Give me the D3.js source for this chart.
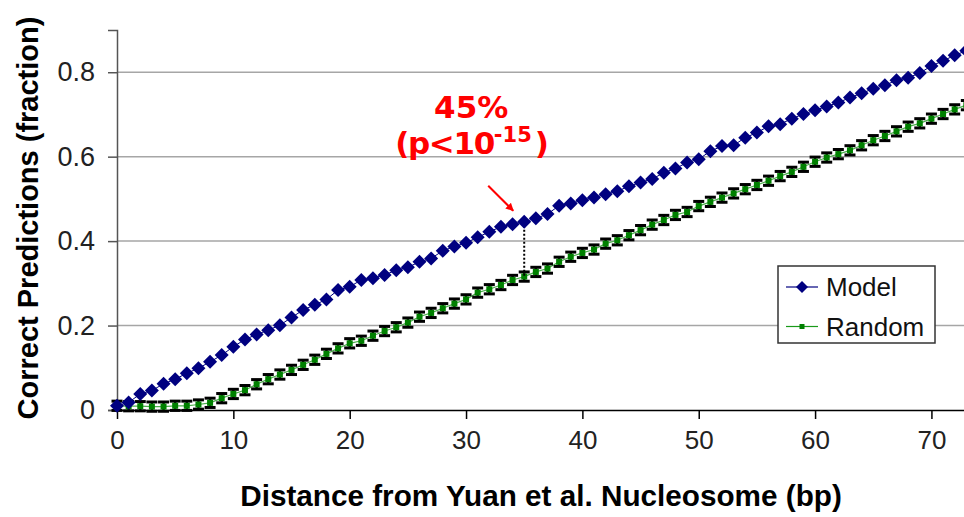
<!DOCTYPE html>
<html>
<head>
<meta charset="utf-8">
<script src="https://cdn.jsdelivr.net/npm/d3@7"></script>
<style>
  body { margin: 0; background: #fff; }
  svg { display: block; font-family: "Liberation Sans", Arial, sans-serif; }
</style>
</head>
<body>
<svg id="chart" width="964" height="517"></svg>
<script>
// distance (bp) for every point
var distances = d3.range(0, 74)

// Model: fraction of correct predictions
var modelValues = [
  0.010, 0.018, 0.038, 0.046, 0.062, 0.073, 0.087, 0.099, 0.114, 0.130,
  0.150, 0.167, 0.179, 0.189, 0.201, 0.219, 0.237, 0.249, 0.262, 0.284,
  0.292, 0.308, 0.312, 0.320, 0.331, 0.338, 0.351, 0.359, 0.377, 0.387,
  0.396, 0.409, 0.422, 0.434, 0.440, 0.446, 0.454, 0.464, 0.484, 0.489,
  0.497, 0.503, 0.511, 0.518, 0.530, 0.539, 0.547, 0.562, 0.572, 0.586,
  0.594, 0.613, 0.625, 0.627, 0.645, 0.657, 0.672, 0.677, 0.690, 0.701,
  0.710, 0.719, 0.728, 0.740, 0.750, 0.761, 0.769, 0.781, 0.787, 0.798,
  0.815, 0.827, 0.840, 0.851
]

// Random: fraction of correct predictions (mean)
var randomValues = [
  0.010, 0.009, 0.009, 0.008, 0.008, 0.010, 0.010, 0.013, 0.017, 0.028,
  0.038, 0.047, 0.061, 0.073, 0.084, 0.095, 0.107, 0.119, 0.133, 0.146,
  0.158, 0.164, 0.176, 0.187, 0.196, 0.207, 0.221, 0.230, 0.241, 0.252,
  0.262, 0.278, 0.286, 0.296, 0.308, 0.316, 0.327, 0.335, 0.351, 0.363,
  0.372, 0.380, 0.394, 0.402, 0.414, 0.426, 0.439, 0.450, 0.462, 0.469,
  0.483, 0.493, 0.503, 0.513, 0.523, 0.533, 0.543, 0.554, 0.564, 0.576,
  0.588, 0.598, 0.606, 0.615, 0.627, 0.639, 0.649, 0.660, 0.671, 0.679,
  0.690, 0.701, 0.712, 0.722
]
var randomError = 0.011

var xTicks = [0, 10, 20, 30, 40, 50, 60, 70]
var yTicks = [0, 0.2, 0.4, 0.6, 0.8]
var seriesNames = ["Model", "Random"]
var highlightDistance = 35

var svg = d3.select("#chart")
var x = d3.scaleLinear().domain([0, 72.8]).range([117, 964])
var y = d3.scaleLinear().domain([0, 0.9]).range([410, 30])

// gridlines
svg.append("g")
  .selectAll("line")
  .data(yTicks.filter(function(d) { return d > 0 }))
  .enter().append("line")
    .attr("x1", x(0)).attr("x2", 964)
    .attr("y1", function(d) { return y(d) })
    .attr("y2", function(d) { return y(d) })
    .attr("stroke", "#a6a6a6")
    .attr("stroke-width", 1.5)

// y axis
var yAxis = d3.axisLeft(y)
  .tickValues(yTicks)
  .tickSize(9)
  .tickPadding(13)
  .tickFormat(function(d) { return d === 0 ? "0" : d3.format(".1f")(d) })
var gy = svg.append("g").attr("transform", "translate(" + x(0) + ",0)").call(yAxis)
gy.select(".domain").attr("stroke", "#555").attr("stroke-width", 1.5)
gy.selectAll(".tick line").attr("stroke", "#555").attr("stroke-width", 1.5)
gy.selectAll("text").attr("font-size", 27).attr("fill", "#222")
  .attr("font-family", "Liberation Sans, Arial, sans-serif")

// x axis
var xAxis = d3.axisBottom(x)
  .tickValues(xTicks)
  .tickSize(9)
  .tickPadding(12)
  .tickSizeOuter(0)
var gx = svg.append("g").attr("transform", "translate(0," + y(0) + ")").call(xAxis)
gx.select(".domain").attr("stroke", "#000").attr("stroke-width", 1.5)
gx.selectAll(".tick line").attr("stroke", "#000").attr("stroke-width", 1.5)
gx.selectAll("text").attr("font-size", 26).attr("fill", "#222")
  .attr("font-family", "Liberation Sans, Arial, sans-serif")

// axis titles
svg.append("text")
  .attr("transform", "translate(38,218) rotate(-90)")
  .attr("text-anchor", "middle")
  .attr("font-size", 29)
  .attr("font-weight", "bold")
  .text("Correct Predictions (fraction)")

svg.append("text")
  .attr("x", 541).attr("y", 506)
  .attr("text-anchor", "middle")
  .attr("font-size", 29.7)
  .attr("font-weight", "bold")
  .text("Distance from Yuan et al. Nucleosome (bp)")

var plot = svg.append("g")

// random series: line, error bars, squares
var randomData = distances.map(function(d, i) { return {x: d, y: randomValues[i]} })
var modelData = distances.map(function(d, i) { return {x: d, y: modelValues[i]} })
var line = d3.line().x(function(d) { return x(d.x) }).y(function(d) { return y(d.y) })

plot.append("path")
  .datum(randomData)
  .attr("d", line)
  .attr("fill", "none")
  .attr("stroke", "#4caf4c")
  .attr("stroke-width", 1.2)

var err = plot.append("g").selectAll("g")
  .data(randomData)
  .enter().append("g")
err.append("line")
  .attr("x1", function(d) { return x(d.x) }).attr("x2", function(d) { return x(d.x) })
  .attr("y1", function(d) { return y(d.y - randomError) })
  .attr("y2", function(d) { return y(d.y + randomError) })
  .attr("stroke", "#000").attr("stroke-width", 2.5)
err.selectAll("line.cap")
  .data(function(d) { return [d.y - randomError, d.y + randomError].map(function(v) { return {x: d.x, y: v} }) })
  .enter().append("line")
    .attr("class", "cap")
    .attr("x1", function(d) { return x(d.x) - 5.5 }).attr("x2", function(d) { return x(d.x) + 5.5 })
    .attr("y1", function(d) { return y(d.y) }).attr("y2", function(d) { return y(d.y) })
    .attr("stroke", "#000").attr("stroke-width", 3)

plot.append("g").selectAll("rect")
  .data(randomData)
  .enter().append("rect")
    .attr("x", function(d) { return x(d.x) - 3 })
    .attr("y", function(d) { return y(d.y) - 3 })
    .attr("width", 6).attr("height", 6)
    .attr("fill", "#008000")

// dotted difference line
plot.append("line")
  .attr("x1", x(highlightDistance)).attr("x2", x(highlightDistance))
  .attr("y1", y(modelValues[highlightDistance]))
  .attr("y2", y(randomValues[highlightDistance]))
  .attr("stroke", "#000")
  .attr("stroke-width", 2)
  .attr("stroke-dasharray", "2,2")

// model series
plot.append("path")
  .datum(modelData)
  .attr("d", line)
  .attr("fill", "none")
  .attr("stroke", "#000080")
  .attr("stroke-width", 1)

var diamond = function(cx, cy, r) {
  return "M" + cx + "," + (cy - r) + "L" + (cx + r) + "," + cy + "L" + cx + "," + (cy + r) + "L" + (cx - r) + "," + cy + "Z"
}
plot.append("g").selectAll("path")
  .data(modelData)
  .enter().append("path")
    .attr("d", function(d) { return diamond(x(d.x), y(d.y), 7) })
    .attr("fill", "#000080")

// annotation
var ax = x(highlightDistance), ay = y(modelValues[highlightDistance])
svg.append("defs").append("marker")
  .attr("id", "head")
  .attr("viewBox", "0 0 10 10")
  .attr("refX", 9).attr("refY", 5)
  .attr("markerWidth", 4).attr("markerHeight", 4)
  .attr("orient", "auto")
  .append("path").attr("d", "M0,0L10,5L0,10Z").attr("fill", "#ff0000")
svg.append("line")
  .attr("x1", ax - 36).attr("y1", ay - 36)
  .attr("x2", ax - 11).attr("y2", ay - 11)
  .attr("stroke", "#ff0000").attr("stroke-width", 2)
  .attr("marker-end", "url(#head)")

var note = svg.append("text")
  .attr("font-family", "DejaVu Sans, Verdana, sans-serif")
  .attr("font-weight", "bold")
  .attr("font-size", 31)
  .attr("fill", "#ff0000")
  .attr("text-anchor", "middle")
note.append("tspan").attr("x", ax - 53).attr("y", 118).text("45%")
var l2 = svg.append("text")
  .attr("font-family", "DejaVu Sans, Verdana, sans-serif")
  .attr("font-weight", "bold")
  .attr("font-size", 31)
  .attr("fill", "#ff0000")
  .attr("x", ax - 129).attr("y", 154)
l2.append("tspan").attr("textLength", 100).text("(p<10")
l2.append("tspan").attr("font-size", 21).attr("dy", -12).text("-15")
l2.append("tspan").attr("dy", 12).attr("dx", 3).text(")")

// legend
var lg = svg.append("g").attr("transform", "translate(778,266)")
lg.append("rect")
  .attr("width", 157).attr("height", 77)
  .attr("fill", "#fff").attr("stroke", "#333").attr("stroke-width", 1.5)
var colors = ["#000080", "#1a9a1a"]
seriesNames.forEach(function(name, i) {
  var cy = 21 + i * 39.5
  lg.append("line").attr("x1", 8).attr("x2", 40).attr("y1", cy).attr("y2", cy)
    .attr("stroke", colors[i]).attr("stroke-width", 1.2)
  if (i == 0) {
    lg.append("path").attr("d", diamond(24, cy, 6)).attr("fill", "#000080")
  } else {
    lg.append("rect").attr("x", 21.5).attr("y", cy - 2.5).attr("width", 5).attr("height", 5).attr("fill", "#008000")
  }
  lg.append("text").attr("x", 48).attr("y", cy + 9)
    .attr("font-size", 26).attr("fill", "#111")
    .text(name)
})
</script>
</body>
</html>
